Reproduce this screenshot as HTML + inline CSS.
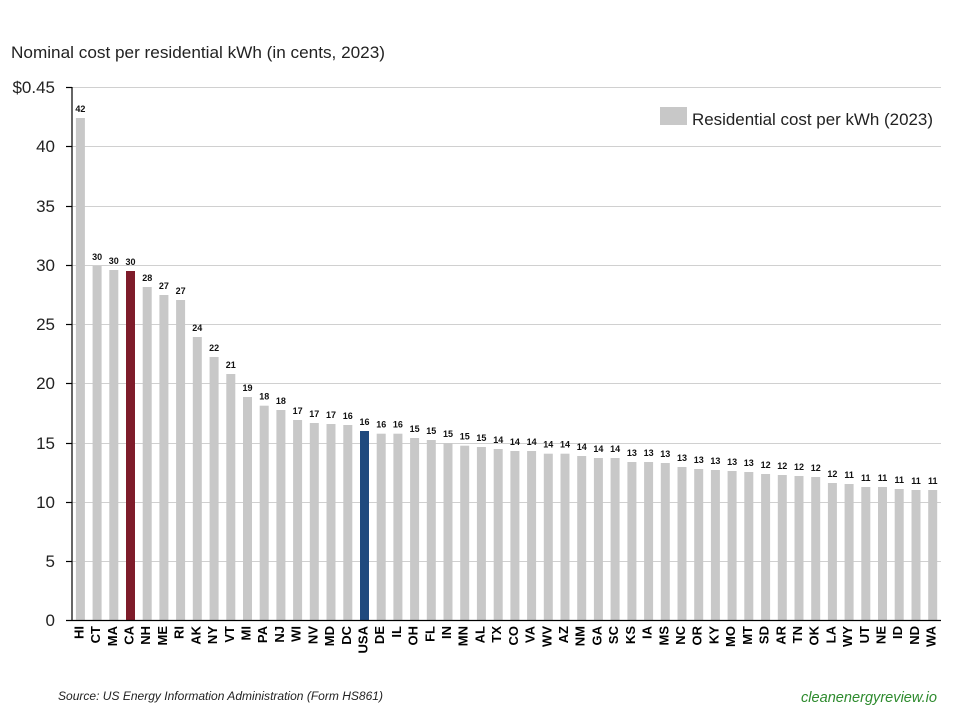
<!DOCTYPE html>
<html><head><meta charset="utf-8"><style>
html,body{margin:0;padding:0;background:#fff;}
svg{display:block;}
text{font-family:"Liberation Sans",Arial,sans-serif;}
</style></head><body>
<svg width="960" height="720" viewBox="0 0 960 720" xmlns="http://www.w3.org/2000/svg">
<rect width="960" height="720" fill="#fff"/>
<text x="11" y="58" font-size="17" fill="#222" textLength="374" lengthAdjust="spacingAndGlyphs">Nominal cost per residential kWh (in cents, 2023)</text>
<g stroke="#d0d0d0" stroke-width="1">
<line x1="72" y1="87.5" x2="941" y2="87.5"/>
<line x1="72" y1="146.5" x2="941" y2="146.5"/>
<line x1="72" y1="206.5" x2="941" y2="206.5"/>
<line x1="72" y1="265.5" x2="941" y2="265.5"/>
<line x1="72" y1="324.5" x2="941" y2="324.5"/>
<line x1="72" y1="383.5" x2="941" y2="383.5"/>
<line x1="72" y1="443.5" x2="941" y2="443.5"/>
<line x1="72" y1="502.5" x2="941" y2="502.5"/>
<line x1="72" y1="561.5" x2="941" y2="561.5"/>
</g>
<g font-size="17" fill="#222" text-anchor="end">
<text x="55" y="93">$0.45</text>
<text x="55" y="152">40</text>
<text x="55" y="212">35</text>
<text x="55" y="271">30</text>
<text x="55" y="330">25</text>
<text x="55" y="389">20</text>
<text x="55" y="449">15</text>
<text x="55" y="508">10</text>
<text x="55" y="567">5</text>
<text x="55" y="626">0</text>
</g>
<g fill="#c8c8c8">
<rect x="75.9" y="118" width="9" height="502"/>
<rect x="92.6" y="266" width="9" height="354"/>
<rect x="109.3" y="270" width="9" height="350"/>
<rect x="126.0" y="271" width="9" height="349" fill="#7e1c2a"/>
<rect x="142.7" y="287" width="9" height="333"/>
<rect x="159.4" y="295" width="9" height="325"/>
<rect x="176.1" y="300" width="9" height="320"/>
<rect x="192.8" y="337" width="9" height="283"/>
<rect x="209.6" y="357" width="9" height="263"/>
<rect x="226.3" y="374" width="9" height="246"/>
<rect x="243.0" y="397" width="9" height="223"/>
<rect x="259.7" y="405.7" width="9" height="214.3"/>
<rect x="276.4" y="410" width="9" height="210"/>
<rect x="293.1" y="420" width="9" height="200"/>
<rect x="309.8" y="423" width="9" height="197"/>
<rect x="326.5" y="424" width="9" height="196"/>
<rect x="343.3" y="425" width="9" height="195"/>
<rect x="360.0" y="431" width="9" height="189" fill="#1f4a7e"/>
<rect x="376.7" y="433.7" width="9" height="186.3"/>
<rect x="393.4" y="433.7" width="9" height="186.3"/>
<rect x="410.1" y="438" width="9" height="182"/>
<rect x="426.8" y="440" width="9" height="180"/>
<rect x="443.5" y="443" width="9" height="177"/>
<rect x="460.2" y="445.7" width="9" height="174.3"/>
<rect x="476.9" y="447" width="9" height="173"/>
<rect x="493.7" y="449" width="9" height="171"/>
<rect x="510.4" y="451" width="9" height="169"/>
<rect x="527.1" y="451" width="9" height="169"/>
<rect x="543.8" y="453.7" width="9" height="166.3"/>
<rect x="560.5" y="453.7" width="9" height="166.3"/>
<rect x="577.2" y="456" width="9" height="164"/>
<rect x="593.9" y="458" width="9" height="162"/>
<rect x="610.6" y="458" width="9" height="162"/>
<rect x="627.4" y="462" width="9" height="158"/>
<rect x="644.1" y="462" width="9" height="158"/>
<rect x="660.8" y="463" width="9" height="157"/>
<rect x="677.5" y="467" width="9" height="153"/>
<rect x="694.2" y="469" width="9" height="151"/>
<rect x="710.9" y="470" width="9" height="150"/>
<rect x="727.6" y="471" width="9" height="149"/>
<rect x="744.3" y="472" width="9" height="148"/>
<rect x="761.1" y="474" width="9" height="146"/>
<rect x="777.8" y="475" width="9" height="145"/>
<rect x="794.5" y="476" width="9" height="144"/>
<rect x="811.2" y="477" width="9" height="143"/>
<rect x="827.9" y="483" width="9" height="137"/>
<rect x="844.6" y="484" width="9" height="136"/>
<rect x="861.3" y="487" width="9" height="133"/>
<rect x="878.0" y="487" width="9" height="133"/>
<rect x="894.7" y="489" width="9" height="131"/>
<rect x="911.5" y="490" width="9" height="130"/>
<rect x="928.2" y="490" width="9" height="130"/>
</g>
<g font-size="9" font-weight="bold" fill="#111" text-anchor="middle">
<text x="80.4" y="112">42</text>
<text x="97.1" y="260">30</text>
<text x="113.8" y="264">30</text>
<text x="130.5" y="265">30</text>
<text x="147.2" y="281">28</text>
<text x="163.9" y="289">27</text>
<text x="180.6" y="294">27</text>
<text x="197.3" y="331">24</text>
<text x="214.1" y="351">22</text>
<text x="230.8" y="368">21</text>
<text x="247.5" y="391">19</text>
<text x="264.2" y="399.7">18</text>
<text x="280.9" y="404">18</text>
<text x="297.6" y="414">17</text>
<text x="314.3" y="417">17</text>
<text x="331.0" y="418">17</text>
<text x="347.8" y="419">16</text>
<text x="364.5" y="425">16</text>
<text x="381.2" y="427.7">16</text>
<text x="397.9" y="427.7">16</text>
<text x="414.6" y="432">15</text>
<text x="431.3" y="434">15</text>
<text x="448.0" y="437">15</text>
<text x="464.7" y="439.7">15</text>
<text x="481.4" y="441">15</text>
<text x="498.2" y="443">14</text>
<text x="514.9" y="445">14</text>
<text x="531.6" y="445">14</text>
<text x="548.3" y="447.7">14</text>
<text x="565.0" y="447.7">14</text>
<text x="581.7" y="450">14</text>
<text x="598.4" y="452">14</text>
<text x="615.1" y="452">14</text>
<text x="631.9" y="456">13</text>
<text x="648.6" y="456">13</text>
<text x="665.3" y="457">13</text>
<text x="682.0" y="461">13</text>
<text x="698.7" y="463">13</text>
<text x="715.4" y="464">13</text>
<text x="732.1" y="465">13</text>
<text x="748.8" y="466">13</text>
<text x="765.6" y="468">12</text>
<text x="782.3" y="469">12</text>
<text x="799.0" y="470">12</text>
<text x="815.7" y="471">12</text>
<text x="832.4" y="477">12</text>
<text x="849.1" y="478">11</text>
<text x="865.8" y="481">11</text>
<text x="882.5" y="481">11</text>
<text x="899.2" y="483">11</text>
<text x="916.0" y="484">11</text>
<text x="932.7" y="484">11</text>
</g>
<g stroke="#000" stroke-width="1.2">
<line x1="72" y1="87" x2="72" y2="621"/>
<line x1="66" y1="620.5" x2="941" y2="620.5"/>
<line x1="66" y1="87.5" x2="72" y2="87.5"/>
<line x1="66" y1="146.5" x2="72" y2="146.5"/>
<line x1="66" y1="206.5" x2="72" y2="206.5"/>
<line x1="66" y1="265.5" x2="72" y2="265.5"/>
<line x1="66" y1="324.5" x2="72" y2="324.5"/>
<line x1="66" y1="383.5" x2="72" y2="383.5"/>
<line x1="66" y1="443.5" x2="72" y2="443.5"/>
<line x1="66" y1="502.5" x2="72" y2="502.5"/>
<line x1="66" y1="561.5" x2="72" y2="561.5"/>
</g>
<g font-size="13" font-weight="bold" fill="#000" text-anchor="end">
<text transform="translate(83.4,626) rotate(-90)">HI</text>
<text transform="translate(100.1,626) rotate(-90)">CT</text>
<text transform="translate(116.8,626) rotate(-90)">MA</text>
<text transform="translate(133.5,626) rotate(-90)">CA</text>
<text transform="translate(150.2,626) rotate(-90)">NH</text>
<text transform="translate(166.9,626) rotate(-90)">ME</text>
<text transform="translate(183.6,626) rotate(-90)">RI</text>
<text transform="translate(200.3,626) rotate(-90)">AK</text>
<text transform="translate(217.1,626) rotate(-90)">NY</text>
<text transform="translate(233.8,626) rotate(-90)">VT</text>
<text transform="translate(250.5,626) rotate(-90)">MI</text>
<text transform="translate(267.2,626) rotate(-90)">PA</text>
<text transform="translate(283.9,626) rotate(-90)">NJ</text>
<text transform="translate(300.6,626) rotate(-90)">WI</text>
<text transform="translate(317.3,626) rotate(-90)">NV</text>
<text transform="translate(334.0,626) rotate(-90)">MD</text>
<text transform="translate(350.8,626) rotate(-90)">DC</text>
<text transform="translate(367.5,626) rotate(-90)">USA</text>
<text transform="translate(384.2,626) rotate(-90)">DE</text>
<text transform="translate(400.9,626) rotate(-90)">IL</text>
<text transform="translate(417.6,626) rotate(-90)">OH</text>
<text transform="translate(434.3,626) rotate(-90)">FL</text>
<text transform="translate(451.0,626) rotate(-90)">IN</text>
<text transform="translate(467.7,626) rotate(-90)">MN</text>
<text transform="translate(484.4,626) rotate(-90)">AL</text>
<text transform="translate(501.2,626) rotate(-90)">TX</text>
<text transform="translate(517.9,626) rotate(-90)">CO</text>
<text transform="translate(534.6,626) rotate(-90)">VA</text>
<text transform="translate(551.3,626) rotate(-90)">WV</text>
<text transform="translate(568.0,626) rotate(-90)">AZ</text>
<text transform="translate(584.7,626) rotate(-90)">NM</text>
<text transform="translate(601.4,626) rotate(-90)">GA</text>
<text transform="translate(618.1,626) rotate(-90)">SC</text>
<text transform="translate(634.9,626) rotate(-90)">KS</text>
<text transform="translate(651.6,626) rotate(-90)">IA</text>
<text transform="translate(668.3,626) rotate(-90)">MS</text>
<text transform="translate(685.0,626) rotate(-90)">NC</text>
<text transform="translate(701.7,626) rotate(-90)">OR</text>
<text transform="translate(718.4,626) rotate(-90)">KY</text>
<text transform="translate(735.1,626) rotate(-90)">MO</text>
<text transform="translate(751.8,626) rotate(-90)">MT</text>
<text transform="translate(768.6,626) rotate(-90)">SD</text>
<text transform="translate(785.3,626) rotate(-90)">AR</text>
<text transform="translate(802.0,626) rotate(-90)">TN</text>
<text transform="translate(818.7,626) rotate(-90)">OK</text>
<text transform="translate(835.4,626) rotate(-90)">LA</text>
<text transform="translate(852.1,626) rotate(-90)">WY</text>
<text transform="translate(868.8,626) rotate(-90)">UT</text>
<text transform="translate(885.5,626) rotate(-90)">NE</text>
<text transform="translate(902.2,626) rotate(-90)">ID</text>
<text transform="translate(919.0,626) rotate(-90)">ND</text>
<text transform="translate(935.7,626) rotate(-90)">WA</text>
</g>
<rect x="660" y="107" width="27" height="18" fill="#c8c8c8"/>
<text x="692" y="125" font-size="17" fill="#222" textLength="241" lengthAdjust="spacingAndGlyphs">Residential cost per kWh (2023)</text>
<text x="58" y="700" font-size="11.5" font-style="italic" fill="#222" textLength="325" lengthAdjust="spacingAndGlyphs">Source: US Energy Information Administration (Form HS861)</text>
<text x="801" y="702" font-size="14.5" font-style="italic" fill="#2e8b2e" textLength="136" lengthAdjust="spacingAndGlyphs">cleanenergyreview.io</text>
</svg>
</body></html>
